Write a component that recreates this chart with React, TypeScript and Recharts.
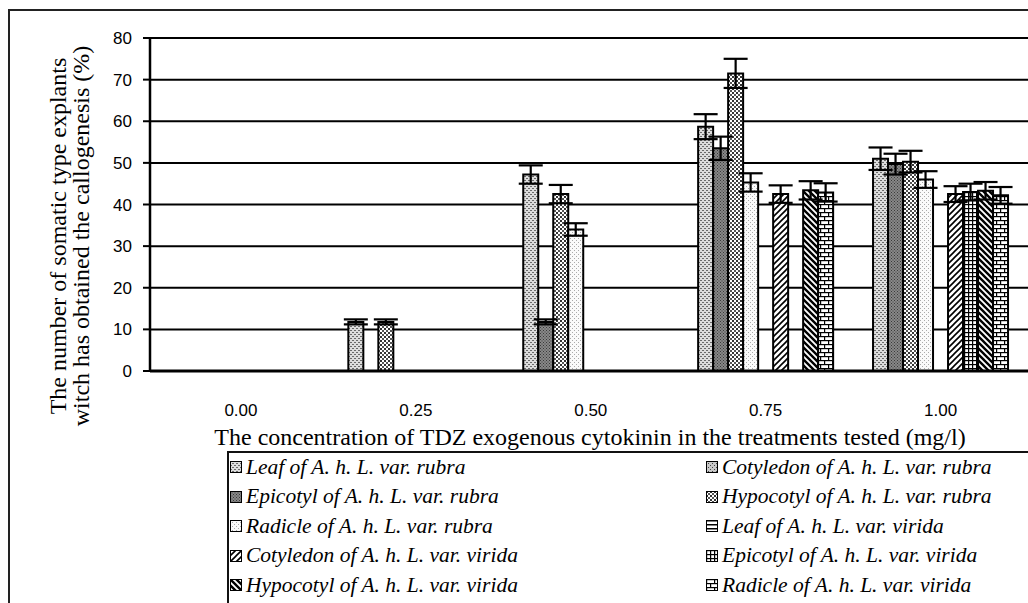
import { BarChart, Bar, XAxis, YAxis, CartesianGrid, ErrorBar } from 'recharts';

// TDZ concentration (mg/l)
const categories = ['0.00', '0.25', '0.50', '0.75', '1.00'];

// callogenesis (%) per explant type, with error margins
const leafRubra = [0, 11.8, 47.2, 58.7, 51];
const leafRubraErr = [null, 0.6, 2.2, 3, 2.7];
const epicotylRubra = [0, 0, 11.8, 53.5, 49.7];
const epicotylRubraErr = [null, null, 0.6, 2.8, 2.5];
const hypocotylRubra = [0, 11.8, 42.5, 71.5, 50.3];
const hypocotylRubraErr = [null, 0.6, 2.2, 3.5, 2.6];
const radicleRubra = [0, 0, 34, 45.3, 46];
const radicleRubraErr = [null, null, 1.5, 2.2, 2];
const leafVirida = [0, 0, 0, 0, 0];
const leafViridaErr = [null, null, null, null, null];
const cotyledonVirida = [0, 0, 0, 42.5, 42.5];
const cotyledonViridaErr = [null, null, null, 2.1, 1.9];
const epicotylVirida = [0, 0, 0, 0, 43];
const epicotylViridaErr = [null, null, null, null, 2];
const hypocotylVirida = [0, 0, 0, 43.4, 43.3];
const hypocotylViridaErr = [null, null, null, 2.2, 2.1];
const radicleVirida = [0, 0, 0, 42.9, 42.2];
const radicleViridaErr = [null, null, null, 2.2, 2];

const yTicks = [0, 10, 20, 30, 40, 50, 60, 70, 80];

const legendNames = [
  ['Leaf', 'rubra'],
  ['Cotyledon', 'rubra'],
  ['Epicotyl', 'rubra'],
  ['Hypocotyl', 'rubra'],
  ['Radicle', 'rubra'],
  ['Leaf', 'virida'],
  ['Cotyledon', 'virida'],
  ['Epicotyl', 'virida'],
  ['Hypocotyl', 'virida'],
  ['Radicle', 'virida'],
];
const legendFills = [
  'p_leafR', 'p_cotR', 'p_epiR', 'p_hypR', 'p_radR',
  'p_leafV', 'p_cotV', 'p_epiV', 'p_hypV', 'p_radV',
];

const series = [
  { key: 'leafR', values: leafRubra, err: leafRubraErr, fill: 'p_leafR' },
  { key: 'epiR', values: epicotylRubra, err: epicotylRubraErr, fill: 'p_epiR' },
  { key: 'hypR', values: hypocotylRubra, err: hypocotylRubraErr, fill: 'p_hypR' },
  { key: 'radR', values: radicleRubra, err: radicleRubraErr, fill: 'p_radR' },
  { key: 'leafV', values: leafVirida, err: leafViridaErr, fill: 'p_leafV' },
  { key: 'cotV', values: cotyledonVirida, err: cotyledonViridaErr, fill: 'p_cotV' },
  { key: 'epiV', values: epicotylVirida, err: epicotylViridaErr, fill: 'p_epiV' },
  { key: 'hypV', values: hypocotylVirida, err: hypocotylViridaErr, fill: 'p_hypV' },
  { key: 'radV', values: radicleVirida, err: radicleViridaErr, fill: 'p_radV' },
];

const data = categories.map((c, i) => {
  const row: any = { c };
  series.forEach(s => {
    row[s.key] = s.values[i];
    row[s.key + 'Err'] = s.err[i];
  });
  return row;
});

const serif = '"Liberation Serif", "Times New Roman", serif';
const sans = '"Liberation Sans", Arial, sans-serif';

const Patterns = () => (
  <defs>
    <pattern id="p_leafR" width="4" height="4" patternUnits="userSpaceOnUse">
      <rect width="4" height="4" fill="#dcdcdc" />
      <rect x="0" y="0" width="2" height="1" fill="#6a6a6a" />
      <rect x="2" y="2" width="2" height="1" fill="#6a6a6a" />
    </pattern>
    <pattern id="p_cotR" width="4" height="4" patternUnits="userSpaceOnUse">
      <rect width="4" height="4" fill="#c8c8c8" />
      <rect x="0" y="0" width="1" height="1" fill="#444" />
      <rect x="2" y="2" width="1" height="1" fill="#444" />
    </pattern>
    <pattern id="p_epiR" width="3" height="3" patternUnits="userSpaceOnUse">
      <rect width="3" height="3" fill="#888" />
      <rect x="0" y="0" width="1" height="1" fill="#3a3a3a" />
      <rect x="1.5" y="1.5" width="1" height="1" fill="#3a3a3a" />
    </pattern>
    <pattern id="p_hypR" width="4" height="4" patternUnits="userSpaceOnUse">
      <rect width="4" height="4" fill="#ffffff" />
      <rect x="0" y="0" width="2" height="2" fill="#333" />
      <rect x="2" y="2" width="2" height="2" fill="#555" />
    </pattern>
    <pattern id="p_radR" width="4" height="4" patternUnits="userSpaceOnUse">
      <rect width="4" height="4" fill="#fafafa" />
      <rect x="0" y="0" width="1" height="1" fill="#aaa" />
      <rect x="2" y="2" width="1" height="1" fill="#aaa" />
    </pattern>
    <pattern id="p_leafV" width="4" height="4" patternUnits="userSpaceOnUse">
      <rect width="4" height="4" fill="#fff" />
      <rect x="0" y="0" width="4" height="1.5" fill="#000" />
    </pattern>
    <pattern id="p_cotV" width="6" height="6" patternUnits="userSpaceOnUse">
      <rect width="6" height="6" fill="#fff" />
      <path d="M-1,7 L7,-1 M-4,4 L4,-4 M2,10 L10,2" stroke="#000" strokeWidth="1.6" />
    </pattern>
    <pattern id="p_epiV" width="4" height="4" patternUnits="userSpaceOnUse">
      <rect width="4" height="4" fill="#fff" />
      <rect x="0" y="0" width="4" height="1.2" fill="#000" />
      <rect x="0" y="0" width="1.2" height="4" fill="#000" />
    </pattern>
    <pattern id="p_hypV" width="6" height="6" patternUnits="userSpaceOnUse">
      <rect width="6" height="6" fill="#fff" />
      <path d="M-1,-1 L7,7 M-4,2 L4,10 M2,-4 L10,4" stroke="#000" strokeWidth="2.4" />
    </pattern>
    <pattern id="p_radV" width="8" height="8" patternUnits="userSpaceOnUse">
      <rect width="8" height="8" fill="#fff" />
      <rect x="0" y="0" width="8" height="1.2" fill="#000" />
      <rect x="0" y="4" width="8" height="1.2" fill="#000" />
      <rect x="0" y="0" width="1.2" height="4" fill="#000" />
      <rect x="4" y="4" width="1.2" height="4" fill="#000" />
    </pattern>
  </defs>
);

const YTick = (props: any) => {
  const { x, y, payload } = props;
  return (
    <text x={x} y={y} dy={6} textAnchor="end" fontFamily={sans} fontSize={17} fill="#000">
      {payload.value}
    </text>
  );
};

const XTick = (props: any) => {
  const { x, y, payload } = props;
  return (
    <text x={x} y={y + 43} textAnchor="middle" fontFamily={sans} fontSize={17} fill="#000">
      {payload.value}
    </text>
  );
};

export default function App() {
  return (
    <div style={{ position: 'fixed', left: 0, top: 0, width: 1028, height: 603, overflow: 'hidden', background: '#fff' }}>
      {/* outer chart frame */}
      <div style={{ position: 'absolute', left: 8, top: 9, width: 1200, height: 800, borderLeft: '2px solid #222', borderTop: '2px solid #222' }} />

      <div style={{ position: 'absolute', left: 0, top: 0 }}>
        <BarChart
          width={1028}
          height={603}
          data={data}
          margin={{ top: 38, right: 0, left: 90, bottom: 202 }}
          barCategoryGap="11.4%"
          barGap={0}
        >
          <Patterns />
          <CartesianGrid vertical={false} stroke="#000" strokeWidth={2} />
          <XAxis
            dataKey="c"
            height={30}
            padding={{ left: 3.5, right: 0 }}
            tickLine={false}
            tickSize={0}
            axisLine={{ stroke: '#000', strokeWidth: 3 }}
            tick={<XTick />}
            interval={0}
          />
          <YAxis
            width={60}
            domain={[0, 80]}
            ticks={yTicks}
            interval={0}
            tickSize={7}
            tickMargin={11}
            axisLine={{ stroke: '#000', strokeWidth: 2.5 }}
            tickLine={{ stroke: '#000', strokeWidth: 2 }}
            tick={<YTick />}
          />
          {series.map(s => (
            <Bar
              key={s.key}
              dataKey={s.key}
              fill={`url(#${s.fill})`}
              stroke="#000"
              strokeWidth={2}
              isAnimationActive={false}
            >
              <ErrorBar dataKey={s.key + 'Err'} width={12} stroke="#000" strokeWidth={2.2} />
            </Bar>
          ))}
        </BarChart>
      </div>

      {/* y axis title */}
      <div
        style={{
          position: 'absolute', left: 72 - 220, top: 236 - 25, width: 440, height: 50,
          transform: 'rotate(-90deg)', textAlign: 'center',
          fontFamily: serif, fontSize: 24, lineHeight: '23px', color: '#000', whiteSpace: 'nowrap',
        }}
      >
        The number of somatic type explants<br />witch has obtained the callogenesis (%)
      </div>

      {/* x axis title */}
      <div
        style={{
          position: 'absolute', left: 590 - 450, top: 424, width: 900, textAlign: 'center',
          fontFamily: serif, fontSize: 24, lineHeight: '26px', color: '#000', whiteSpace: 'nowrap',
        }}
      >
        The concentration of TDZ exogenous cytokinin in the treatments tested (mg/l)
      </div>

      {/* legend */}
      <div style={{ position: 'absolute', left: 227, top: 451, width: 900, height: 300, border: '2px solid #111', borderRightWidth: 0 }} />
      {legendNames.map((n, i) => {
        const col = i % 2;
        const row = Math.floor(i / 2);
        const left = col === 0 ? 230 : 706;
        const cy = 467 + row * 29.5;
        return (
          <div key={i} style={{ position: 'absolute', left, top: cy - 13, height: 26, display: 'flex', alignItems: 'center', whiteSpace: 'nowrap' }}>
            <svg width={12} height={12} style={{ marginRight: 4 }}>
              <rect x={0.5} y={0.5} width={11} height={11} fill={`url(#${legendFills[i]})`} stroke="#000" strokeWidth={1} />
            </svg>
            <span style={{ fontFamily: serif, fontStyle: 'italic', fontSize: 21.5, color: '#000' }}>
              {n[0]} of A. h. L. var. {n[1]}
            </span>
          </div>
        );
      })}
    </div>
  );
}
